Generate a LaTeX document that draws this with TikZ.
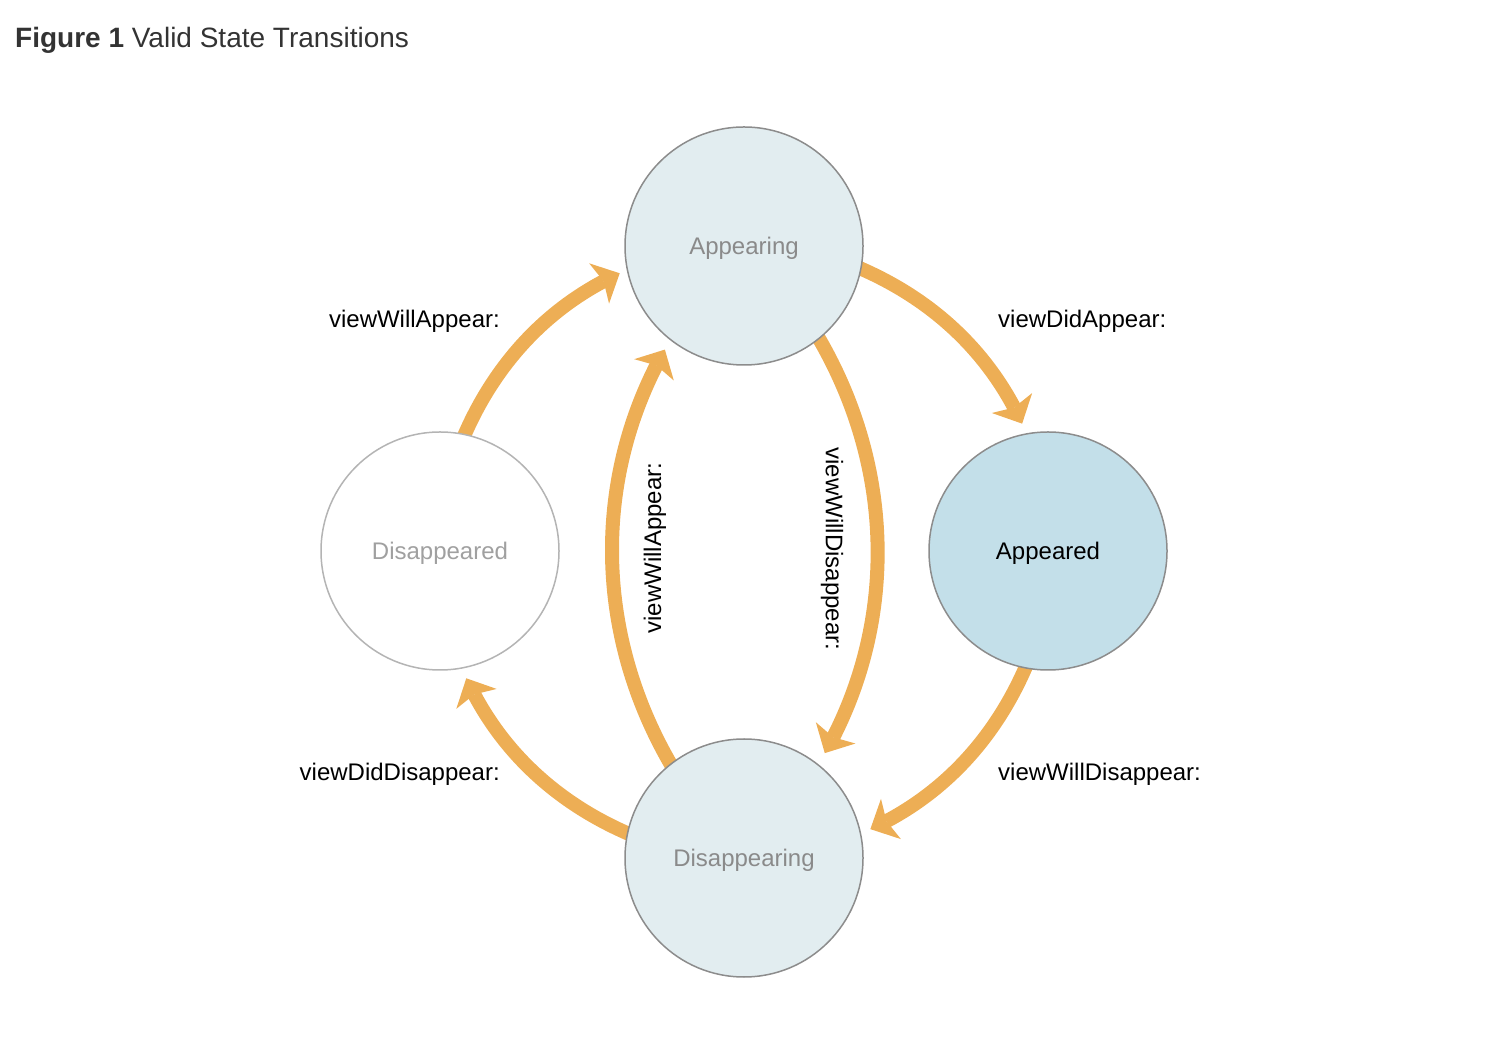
\documentclass[tikz,border=0pt]{standalone}
\usepackage{fontspec}
\setmainfont{Liberation Sans}
\usetikzlibrary{arrows.meta,bending,backgrounds}
\definecolor{flowc}{HTML}{EDAE55}
\definecolor{statefill}{HTML}{E2EDF0}
\definecolor{activefill}{HTML}{C3DFE9}
\definecolor{rimc}{HTML}{8C8C8C}
\definecolor{palerim}{HTML}{B4B4B4}
\definecolor{greytext}{HTML}{8A8A8A}
\definecolor{paletext}{HTML}{A0A0A0}
\definecolor{titlec}{HTML}{333333}
\newcommand{\lowtext}[1]{\raisebox{-2.5pt}[\height][\depth]{#1}}
\begin{document}
\begin{tikzpicture}[x=1pt,y=1pt,
  state/.style={circle, minimum size=238pt, inner sep=0pt, line width=1.5pt, font=\fontsize{24}{28}\selectfont},
  lbl/.style={inner sep=0pt, font=\fontsize{24}{28}\selectfont},
  flow/.style={draw=flowc, line width=14pt, shorten <=-8pt,
    -{Stealth[length=23pt,width=45pt,inset=5pt,line width=0pt,flex]}}
]
\useasboundingbox (0,0) rectangle (1512,1044);
\node[anchor=base west, inner sep=0pt, text=titlec, font=\fontsize{28}{32}\selectfont]
  (title) at (15,996) {\textbf{Figure 1} Valid State Transitions};

\node[state, draw=rimc, fill=statefill, text=greytext] (appearing) at (744,798) {\lowtext{Appearing}};
\node[state, draw=rimc, fill=statefill, text=greytext] (disappearing) at (744,186) {\lowtext{Disappearing}};
\node[state, draw=palerim, fill=white, text=paletext] (disappeared) at (440,493) {\lowtext{Disappeared}};
\node[state, draw=rimc, fill=activefill, text=black] (appeared) at (1048,493) {\lowtext{Appeared}};

\begin{scope}[on background layer]
  \draw[flow] (appearing.-11.25) arc[start angle=67.5, end angle=24.6, radius=305];
  \draw[flow] (appeared.-101.25) arc[start angle=-22.5, end angle=-65.4, radius=305];
  \draw[flow] (disappearing.168.75) arc[start angle=-112.5, end angle=-155.4, radius=305];
  \draw[flow] (disappeared.78.75) arc[start angle=157.5, end angle=114.6, radius=305];
  \draw[flow] (appearing.-51.9) arc[start angle=31.0, end angle=-29.5, radius=411];
  \draw[flow] (disappearing.128.1) arc[start angle=211.0, end angle=150.5, radius=411];
\end{scope}

\node[lbl, anchor=east] (l1) at (500,723) {viewWillAppear:};
\node[lbl, anchor=west] (l2) at (998,723) {viewDidAppear:};
\node[lbl, anchor=east] (l3) at (500,270) {viewDidDisappear:};
\node[lbl, anchor=west] (l4) at (998,270) {viewWillDisappear:};
\node[lbl, rotate=90] (l5) at (655,496) {viewWillAppear:};
\node[lbl, rotate=-90] (l6) at (832,495) {viewWillDisappear:};
\end{tikzpicture}
\end{document}
